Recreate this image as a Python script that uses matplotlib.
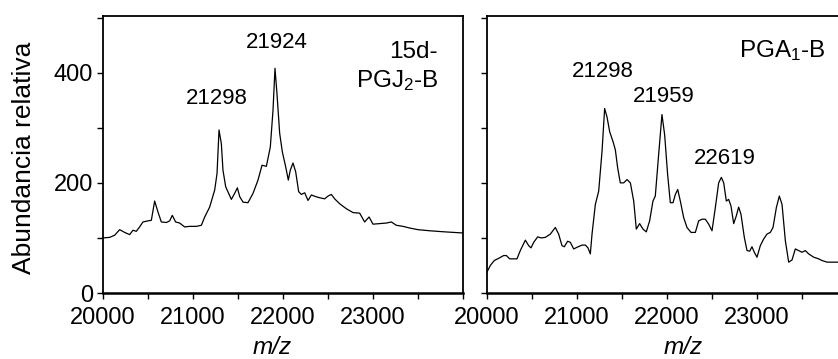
import matplotlib
matplotlib.use("Agg")
import matplotlib.pyplot as plt

plt.rcParams['font.family'] = ['Liberation Sans', 'DejaVu Sans']
plt.rcParams['mathtext.default'] = 'regular'

# ---- data: left panel (15d-PGJ2-B) ----
mz_left = [20000, 20074, 20130, 20185, 20241, 20296, 20333, 20370, 20407, 20444,
           20500, 20537, 20574, 20611, 20648, 20704, 20741, 20770, 20807, 20852,
           20907, 20963, 21037, 21093, 21130, 21185, 21241, 21267, 21289, 21315,
           21333, 21363, 21426, 21463, 21493, 21519, 21556, 21611, 21667, 21722,
           21767, 21815, 21859, 21889, 21911, 21933, 21963, 21993, 22030, 22059,
           22081, 22111, 22141, 22174, 22204, 22241, 22278, 22315, 22363, 22407,
           22463, 22500, 22537, 22574, 22630, 22704, 22778, 22852, 22907, 22956,
           23000, 23074, 23148, 23204, 23259, 23333, 23407, 23500, 23630, 23800, 24000]
ab_left = [100, 101, 105, 115, 110, 106, 114, 112, 120, 129,
           131, 132, 167, 147, 129, 128, 131, 141, 129, 127,
           120, 121, 121, 123, 138, 156, 187, 217, 296, 271,
           223, 193, 170, 181, 191, 175, 165, 164, 181, 205,
           232, 230, 265, 332, 408, 362, 290, 256, 229, 205,
           223, 236, 220, 184, 179, 182, 168, 178, 175, 173,
           171, 176, 179, 171, 162, 153, 146, 145, 129, 138,
           125, 126, 127, 129, 123, 121, 118, 115, 113, 111, 109]

# ---- data: right panel (PGA1-B) ----
mz_right = [20000, 20037, 20081, 20130, 20185, 20215, 20252, 20296, 20333, 20370,
            20426, 20463, 20489, 20519, 20563, 20600, 20648, 20704, 20759, 20796,
            20833, 20859, 20896, 20926, 20963, 21000, 21056, 21093, 21122, 21148,
            21167, 21204, 21241, 21278, 21307, 21333, 21363, 21400, 21426, 21452,
            21481, 21519, 21556, 21593, 21630, 21659, 21696, 21733, 21770, 21807,
            21844, 21870, 21907, 21944, 21974, 22007, 22037, 22067, 22093, 22119,
            22148, 22185, 22222, 22267, 22315, 22352, 22389, 22426, 22463, 22500,
            22537, 22574, 22604, 22630, 22659, 22685, 22711, 22741, 22770, 22796,
            22822, 22859, 22889, 22919, 22944, 22970, 23000, 23037, 23074, 23111,
            23148, 23178, 23215, 23248, 23278, 23315, 23352, 23389, 23426, 23463,
            23500, 23537, 23574, 23630, 23685, 23722, 23778, 23852, 23904, 24000]
ab_right = [38, 50, 59, 63, 68, 68, 62, 62, 62, 77,
            96, 86, 82, 92, 102, 100, 101, 107, 119, 107,
            86, 84, 94, 92, 80, 83, 87, 87, 82, 71,
            107, 161, 185, 257, 335, 320, 293, 275, 260, 227,
            200, 200, 206, 200, 167, 116, 126, 116, 111, 131,
            167, 176, 251, 324, 287, 215, 164, 164, 179, 188,
            167, 137, 119, 110, 110, 131, 134, 134, 125, 113,
            155, 200, 210, 200, 167, 170, 158, 126, 140, 156,
            143, 101, 77, 76, 84, 74, 65, 86, 98, 107,
            110, 119, 155, 176, 161, 95, 56, 60, 80, 77,
            74, 77, 71, 65, 62, 59, 56, 56, 56, 55]

# ---- labels ----
xticks_major = [20000, 21000, 22000, 23000]
yticks_major = [0, 200, 400]
peak_left = [("21298", 21267, 353), ("21924", 21933, 455)]
peak_right = [("21298", 21289, 402), ("21959", 21967, 356), ("22619", 22644, 245)]

W, H = 838, 359
fig = plt.figure(figsize=(W / 100, H / 100), dpi=100)

ax_w = 360 / W
ax_b = 1 - 293 / H
ax_h = (293 - 16) / H
axL = fig.add_axes([103 / W, ax_b, ax_w, ax_h])
axR = fig.add_axes([487 / W, ax_b, ax_w, ax_h])

for ax, mz, ab in [(axL, mz_left, ab_left), (axR, mz_right, ab_right)]:
    ax.plot(mz, ab, color='black', lw=0.9)
    ax.set_xlim(20000, 24000)
    ax.set_ylim(0, 503)
    ax.set_xticks(range(20000, 24001, 500))
    ax.set_xticklabels([str(t) if t in xticks_major else '' for t in range(20000, 24001, 500)])
    ax.set_yticks(range(0, 501, 100))
    ax.tick_params(axis='both', direction='out', length=4, width=1.0,
                   labelsize=17, color='black')
    ax.tick_params(axis='x', pad=6)
    ax.tick_params(axis='y', pad=3)
    for s in ax.spines.values():
        s.set_linewidth(1.3)
    ax.spines['bottom'].set_linewidth(1.8)

axL.set_yticklabels([str(t) if t in yticks_major else '' for t in range(0, 501, 100)])
axR.set_yticklabels([])

for txt, x, y in peak_left:
    axL.text(x, y, txt, ha='center', va='center', fontsize=16)
for txt, x, y in peak_right:
    axR.text(x, y, txt, ha='center', va='center', fontsize=16)

axL.text(0.931, 0.848, '15d-', transform=axL.transAxes, ha='right', va='baseline', fontsize=17.5)
axL.text(0.931, 0.745, 'PGJ$_2$-B', transform=axL.transAxes, ha='right', va='baseline', fontsize=17.5)
axR.text(0.939, 0.853, 'PGA$_1$-B', transform=axR.transAxes, ha='right', va='baseline', fontsize=17.5)

fig.text(24 / W, 1 - 158 / H, 'Abundancia relativa', rotation=90, ha='center', va='center', fontsize=19)
fig.text(272 / W, 1 - 347 / H, 'm/z', style='italic', ha='center', va='center', fontsize=17.5)
fig.text(683 / W, 1 - 347 / H, 'm/z', style='italic', ha='center', va='center', fontsize=17.5)

fig.savefig('out.png', dpi=100)
